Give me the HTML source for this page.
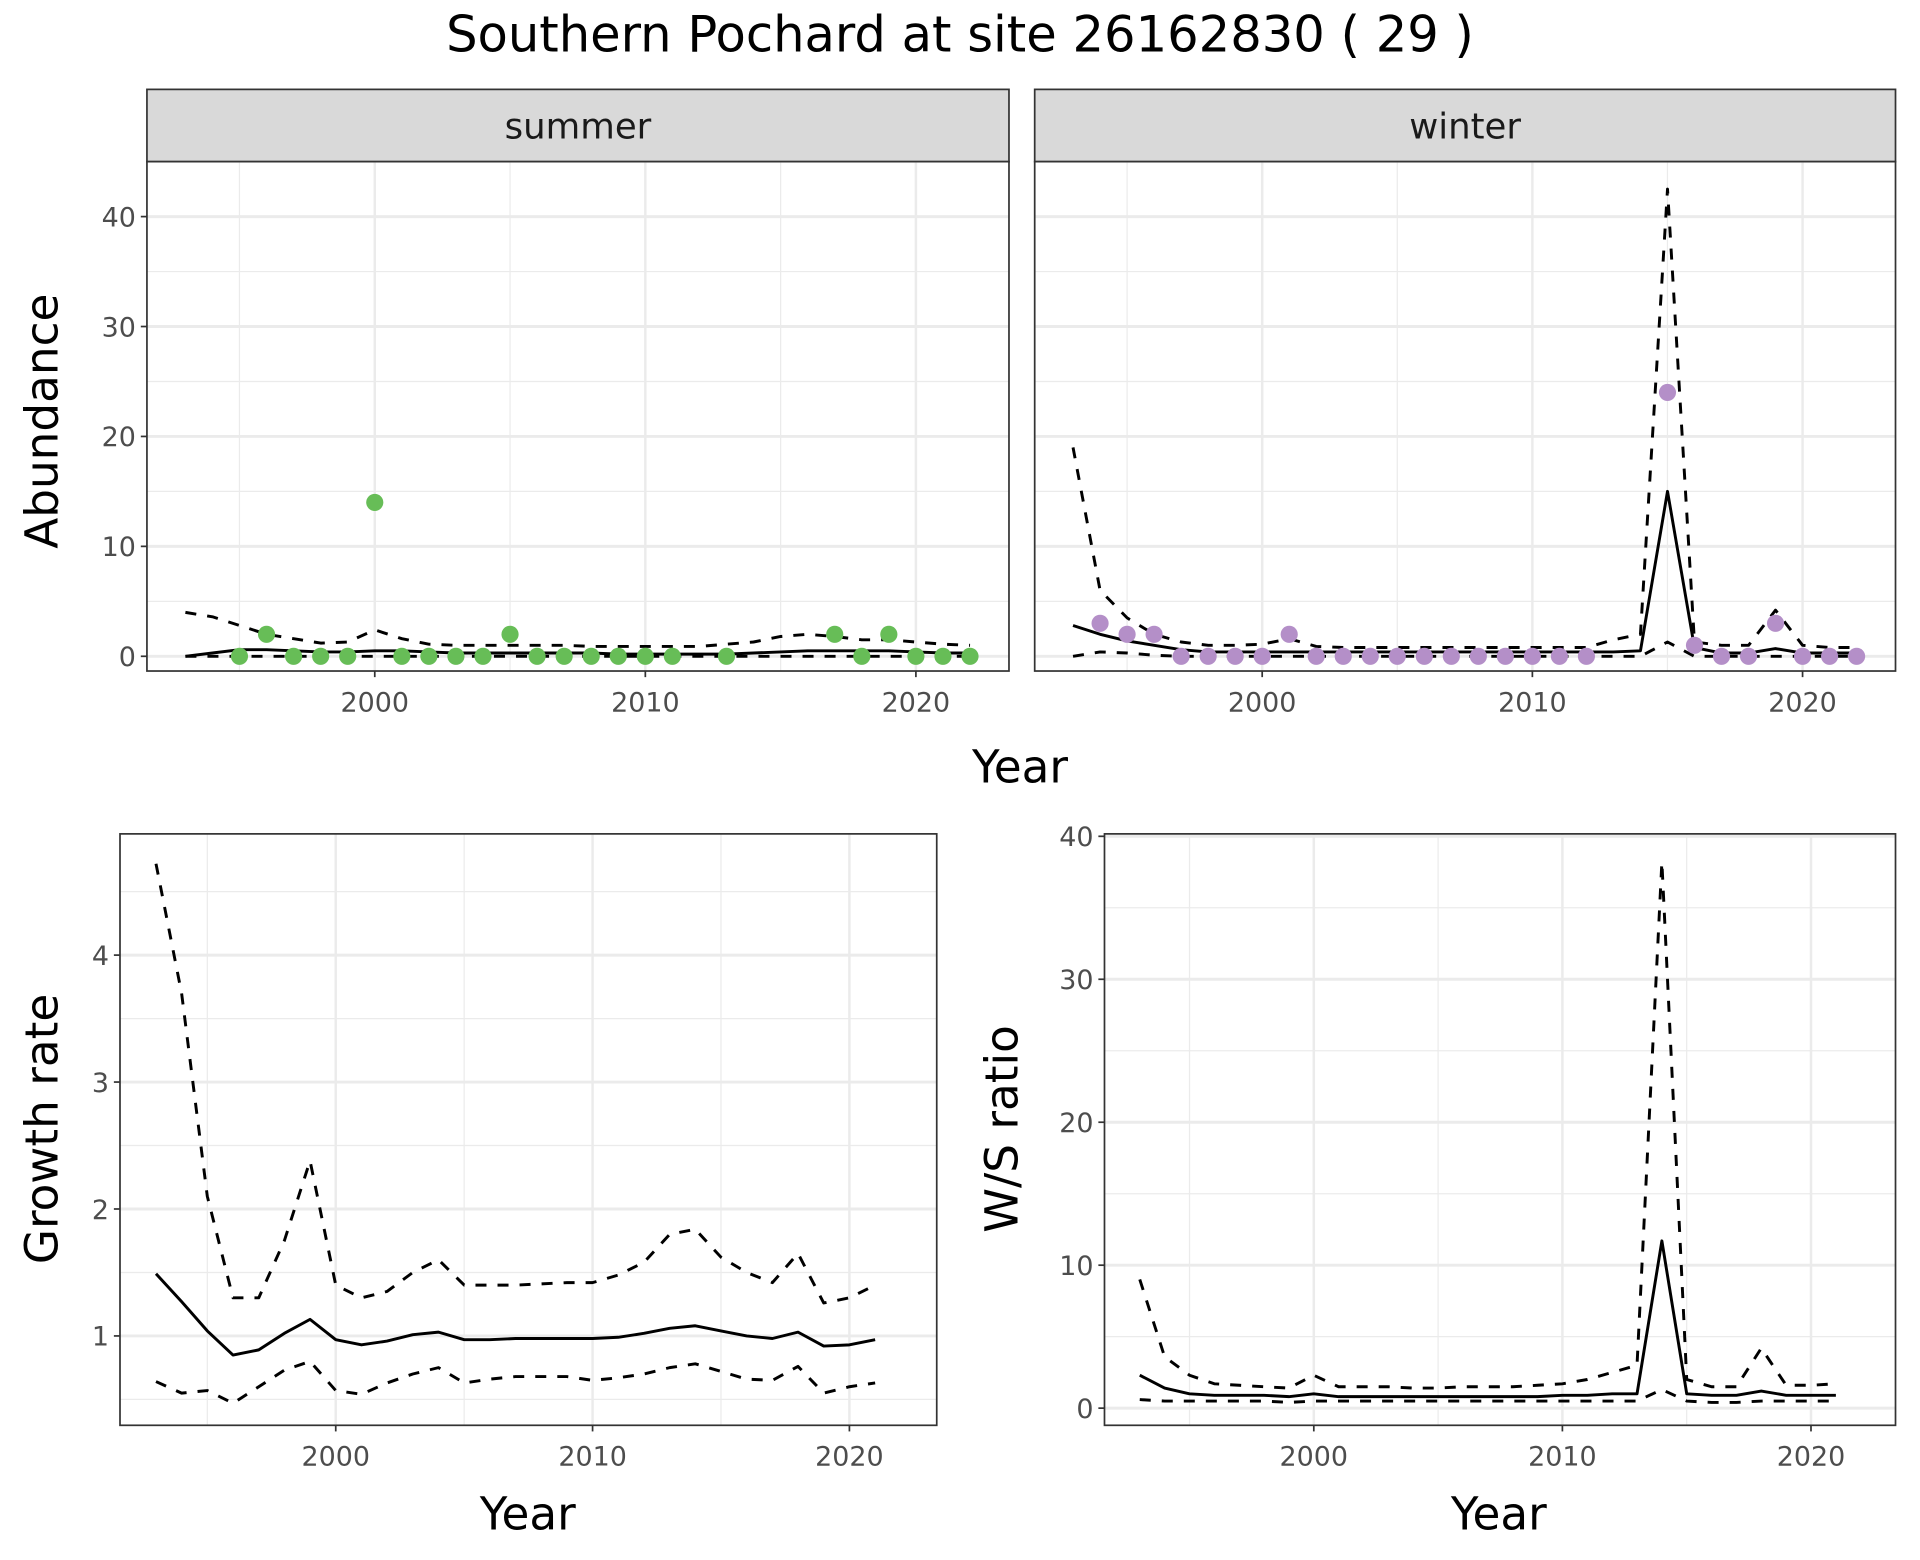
<!DOCTYPE html>
<html><head><meta charset="utf-8"><style>
html,body{margin:0;padding:0;background:#fff;}
svg{display:block;font-family:"DejaVu Sans","Liberation Sans",sans-serif;}
</style></head><body>
<svg id="c" width="1920" height="1560" viewBox="0 0 1568 1274" xmlns="http://www.w3.org/2000/svg">
<text x="784" y="42" font-size="40.5" text-anchor="middle" fill="#000">Southern Pochard at site 26162830 ( 29 )</text>
</svg>
<script>
// ---- data ----
const sumYears = [1995,1996,1997,1998,1999,2000,2001,2002,2003,2004,2005,2006,2007,2008,2009,2010,2011,2013,2017,2018,2019,2020,2021,2022];
const sumCounts = [0,2,0,0,0,14,0,0,0,0,2,0,0,0,0,0,0,0,2,0,2,0,0,0];
const fitYears = [1993,1994,1995,1996,1997,1998,1999,2000,2001,2002,2003,2004,2005,2006,2007,2008,2009,2010,2011,2012,2013,2014,2015,2016,2017,2018,2019,2020,2021,2022];
const sumMean = [0,0.3,0.6,0.6,0.5,0.4,0.4,0.5,0.5,0.4,0.3,0.3,0.3,0.3,0.3,0.3,0.2,0.2,0.2,0.2,0.2,0.3,0.4,0.5,0.5,0.5,0.5,0.4,0.3,0.3];
const sumUpper = [4,3.6,2.8,2.0,1.6,1.2,1.3,2.4,1.6,1.1,1.0,1.0,1.0,1.0,1.0,0.9,0.9,0.9,0.9,0.9,1.1,1.3,1.8,2.0,1.8,1.5,1.5,1.3,1.1,1.0];
const sumLower = [0,0,0,0,0,0,0,0,0,0,0,0,0,0,0,0,0,0,0,0,0,0,0,0,0,0,0,0,0,0];
const winYears = [1994,1995,1996,1997,1998,1999,2000,2001,2002,2003,2004,2005,2006,2007,2008,2009,2010,2011,2012,2015,2016,2017,2018,2019,2020,2021,2022];
const winCounts = [3,2,2,0,0,0,0,2,0,0,0,0,0,0,0,0,0,0,0,24,1,0,0,3,0,0,0];
const winMean = [2.8,2.0,1.4,1.0,0.6,0.4,0.4,0.4,0.4,0.4,0.4,0.4,0.4,0.4,0.4,0.4,0.4,0.4,0.4,0.4,0.4,0.5,15,0.8,0.3,0.3,0.7,0.3,0.3,0.3];
const winUpper = [19,6,3.5,2,1.3,1,1,1.1,1.6,0.9,0.8,0.8,0.8,0.8,0.8,0.8,0.8,0.8,0.8,0.8,1.5,2,42.5,1.3,1,1,4.2,1,0.8,0.8];
const winLower = [0,0.4,0.3,0.1,0,0,0,0,0,0,0,0,0,0,0,0,0,0,0,0,0,0,1.3,0,0,0,0,0,0,0];
const rateYears = [1993,1994,1995,1996,1997,1998,1999,2000,2001,2002,2003,2004,2005,2006,2007,2008,2009,2010,2011,2012,2013,2014,2015,2016,2017,2018,2019,2020,2021];
const growthMean = [1.49,1.27,1.04,0.85,0.89,1.02,1.13,0.97,0.93,0.96,1.01,1.03,0.97,0.97,0.98,0.98,0.98,0.98,0.99,1.02,1.06,1.08,1.04,1.00,0.98,1.03,0.92,0.93,0.97];
const growthUpper = [4.72,3.7,2.1,1.3,1.3,1.75,2.38,1.4,1.3,1.35,1.5,1.6,1.4,1.4,1.4,1.41,1.42,1.42,1.48,1.58,1.8,1.84,1.62,1.5,1.42,1.65,1.26,1.3,1.4];
const growthLower = [0.64,0.55,0.57,0.47,0.6,0.73,0.8,0.57,0.54,0.63,0.7,0.75,0.63,0.66,0.68,0.68,0.68,0.65,0.67,0.7,0.75,0.78,0.72,0.66,0.65,0.76,0.55,0.6,0.63];
const wsMean = [2.3,1.4,1.0,0.9,0.9,0.9,0.8,1.0,0.8,0.8,0.8,0.8,0.8,0.8,0.8,0.8,0.8,0.9,0.9,1.0,1.0,11.7,1.0,0.9,0.9,1.2,0.9,0.9,0.9];
const wsUpper = [9,3.6,2.3,1.7,1.6,1.5,1.4,2.3,1.5,1.5,1.5,1.4,1.4,1.5,1.5,1.5,1.6,1.7,2.0,2.5,3,38.2,2.0,1.5,1.5,4.2,1.6,1.6,1.7];
const wsLower = [0.6,0.5,0.5,0.5,0.5,0.5,0.4,0.5,0.5,0.5,0.5,0.5,0.5,0.5,0.5,0.5,0.5,0.5,0.5,0.5,0.5,1.3,0.5,0.4,0.4,0.5,0.5,0.5,0.5];
const xTicks = [2000,2010,2020];
const abTicks = [0,10,20,30,40];
const growthTicks = [1,2,3,4];
const wsTicks = [0,10,20,30,40];

const NS = "http://www.w3.org/2000/svg";
const svg = document.getElementById('c');
function mk(tag, attrs, parent){
  const e = document.createElementNS(NS, tag);
  for (const k in attrs) e.setAttribute(k, attrs[k]);
  (parent||svg).appendChild(e);
  return e;
}
function panel(name, x0, x1, y0, y1, xmin, xmax, ymin, ymax, yTicks, showY, xLabOff){
  const g = mk('g', {});
  
  
  const sx = v => x0 + (v - xmin) / (xmax - xmin) * (x1 - x0);
  const sy = v => y1 - (v - ymin) / (ymax - ymin) * (y1 - y0);
  const minorX = [];
  for (let i = 0; i < xTicks.length; i++) minorX.push(xTicks[i] - 5);
  minorX.push(xTicks[xTicks.length-1] + 5);
  minorX.forEach(v => { if (v > xmin && v < xmax) mk('line', {x1:sx(v), x2:sx(v), y1:y0, y2:y1, stroke:'#EBEBEB', 'stroke-width':1}, g); });
  const step = yTicks[1] - yTicks[0];
  const minorY = [];
  for (let i = 0; i <= yTicks.length; i++) minorY.push(yTicks[0] - step/2 + i*step);
  minorY.forEach(v => { if (v > ymin && v < ymax) mk('line', {x1:x0, x2:x1, y1:sy(v), y2:sy(v), stroke:'#EBEBEB', 'stroke-width':1}, g); });
  xTicks.forEach(v => mk('line', {x1:sx(v), x2:sx(v), y1:y0, y2:y1, stroke:'#EBEBEB', 'stroke-width':2}, g));
  yTicks.forEach(v => mk('line', {x1:x0, x2:x1, y1:sy(v), y2:sy(v), stroke:'#EBEBEB', 'stroke-width':2.4}, g));
  mk('rect', {x:x0, y:y0, width:x1-x0, height:y1-y0, fill:'none', stroke:'#333', 'stroke-width':1.4}, g);
  xTicks.forEach(v => {
    mk('line', {x1:sx(v), x2:sx(v), y1:y1, y2:y1+5, stroke:'#333', 'stroke-width':1.4}, g);
    const t = mk('text', {x:sx(v), y:y1+xLabOff, 'font-size':22, fill:'#4D4D4D', 'text-anchor':'middle'}, g);
    
    
    t.textContent = v;
  });
  if (showY) yTicks.forEach(v => {
    mk('line', {x1:x0-5, x2:x0, y1:sy(v), y2:sy(v), stroke:'#333', 'stroke-width':1.4}, g);
    const t = mk('text', {x:x0-9, y:sy(v)+8, 'font-size':22, fill:'#4D4D4D', 'text-anchor':'end'}, g);
    
    
    t.textContent = v;
  });
  return {g, sx, sy};
}
function line(p, xs, ys, dashed, name){
  const d = xs.map((x,i)=> (i?'L':'M') + p.sx(x).toFixed(1) + ',' + p.sy(ys[i]).toFixed(1)).join(' ');
  const e = mk('path', {d, fill:'none', stroke:'#000', 'stroke-width':2.4, 'stroke-dasharray': dashed ? '9,9' : 'none', 'stroke-linejoin':'round'}, p.g);
  
  
}
function points(p, xs, ys, col, name){
  xs.forEach((x,i)=>{
    const c = mk('circle', {cx:p.sx(x), cy:p.sy(ys[i]), r:7, fill:col}, p.g);
    
    
  });
}
function strip(x0, x1, label){
  const r = mk('rect', {x:x0, y:73, width:x1-x0, height:59, fill:'#D9D9D9', stroke:'#333', 'stroke-width':1.4});
  
  
  const t = mk('text', {x:(x0+x1)/2, y:113, 'font-size':29, fill:'#1A1A1A', 'text-anchor':'middle'});
  
  
  t.textContent = label;
}
function label(txt, x, y, rot, name){
  const t = mk('text', {x, y, 'font-size':37, fill:'#000', 'text-anchor':'middle', transform: rot ? `rotate(-90 ${x} ${y})` : ''});
  
  
  t.textContent = txt;
}
strip(120, 824, 'summer');
const ps = panel('summer-panel', 120, 824, 132, 548, 1991.58, 2023.44, -1.34, 45.0, abTicks, true, 33);
line(ps, fitYears, sumUpper, true, 'summer-upper-ci');
line(ps, fitYears, sumLower, true, 'summer-lower-ci');
line(ps, fitYears, sumMean, false, 'summer-mean');
points(ps, sumYears, sumCounts, '#67BD57', 'summer-count-point');
strip(845, 1548, 'winter');
const pw = panel('winter-panel', 845, 1548, 132, 548, 1991.58, 2023.44, -1.34, 45.0, abTicks, false, 33);
line(pw, fitYears, winUpper, true, 'winter-upper-ci');
line(pw, fitYears, winLower, true, 'winter-lower-ci');
line(pw, fitYears, winMean, false, 'winter-mean');
points(pw, winYears, winCounts, '#B48FC8', 'winter-count-point');
label('Abundance', 47, 344, true, 'y-axis-title-abundance');
label('Year', 833, 639, false, 'x-axis-title-top');
const pg = panel('growth-panel', 98, 765, 681, 1164, 1991.6, 2023.4, 0.296, 4.955, growthTicks, true, 33);
line(pg, rateYears, growthUpper, true, 'growth-upper-ci');
line(pg, rateYears, growthLower, true, 'growth-lower-ci');
line(pg, rateYears, growthMean, false, 'growth-mean');
label('Growth rate', 47, 922, true, 'y-axis-title-growth');
label('Year', 431, 1249, false, 'x-axis-title-growth');
const pr = panel('ws-ratio-panel', 902, 1548, 681, 1164, 1991.58, 2023.4, -1.2, 40.17, wsTicks, true, 33);
line(pr, rateYears, wsUpper, true, 'ws-upper-ci');
line(pr, rateYears, wsLower, true, 'ws-lower-ci');
line(pr, rateYears, wsMean, false, 'ws-mean');
label('W/S ratio', 831, 922, true, 'y-axis-title-ws');
label('Year', 1224, 1249, false, 'x-axis-title-ws');
</script>
</body></html>
